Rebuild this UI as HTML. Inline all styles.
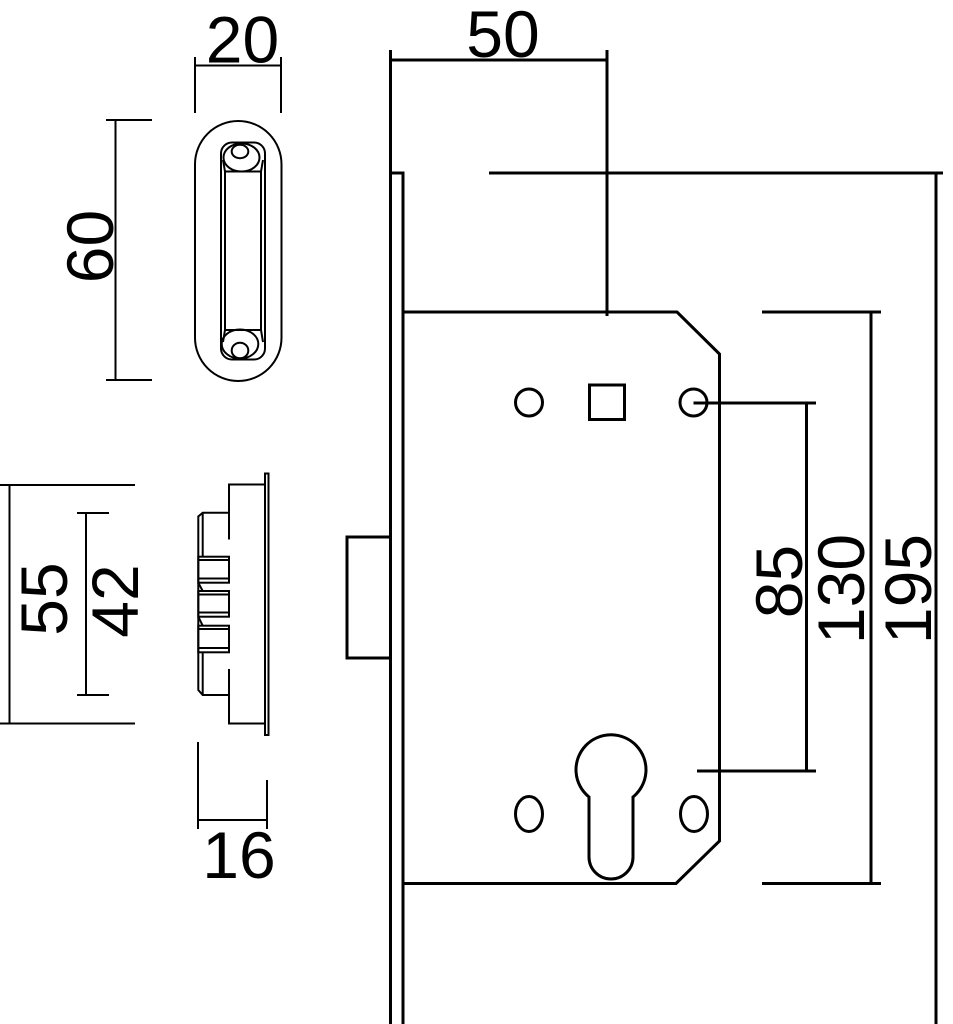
<!DOCTYPE html>
<html><head><meta charset="utf-8"><style>
html,body{margin:0;padding:0;background:#fff;}
svg{display:block;}
text{font-family:"Liberation Sans",Arial,sans-serif;font-size:66px;fill:#000;}
</style></head><body>
<svg width="953" height="1024" viewBox="0 0 953 1024" xmlns="http://www.w3.org/2000/svg">
<rect width="953" height="1024" fill="#fff"/>
<g fill="none" stroke="#000" stroke-width="2">
  <!-- 20 dim -->
  <line x1="195" y1="57" x2="195" y2="113"/>
  <line x1="281" y1="57" x2="281" y2="113"/>
  <line x1="195" y1="65.5" x2="281" y2="65.5"/>
  <!-- 60 dim -->
  <line x1="106" y1="120" x2="152" y2="120"/>
  <line x1="106" y1="380" x2="152" y2="380"/>
  <line x1="115.5" y1="120" x2="115.5" y2="380"/>
  <!-- strike plate front -->
  <rect x="195" y="121" width="86.5" height="260" rx="43.25" ry="43.25"/>
  <rect x="221" y="142.5" width="44" height="217" rx="11" ry="11"/>
  <rect x="225" y="171.5" width="36" height="158.5"/>
  <ellipse cx="241.5" cy="157.5" rx="18" ry="14"/>
  <ellipse cx="240" cy="151.5" rx="8.3" ry="6.7"/>
  <ellipse cx="240" cy="344" rx="18.3" ry="14.5"/>
  <ellipse cx="240" cy="350.5" rx="8.3" ry="7.8"/>
  <line x1="223" y1="160" x2="225" y2="171.5"/>
  <line x1="263" y1="160" x2="261" y2="171.5"/>
  <line x1="223" y1="342" x2="225" y2="330"/>
  <line x1="263" y1="342" x2="261" y2="330"/>
  <!-- 55 dim -->
  <line x1="0" y1="485" x2="135" y2="485"/>
  <line x1="0" y1="723.5" x2="135" y2="723.5"/>
  <line x1="9.5" y1="485" x2="9.5" y2="723.5"/>
  <!-- 42 dim -->
  <line x1="77" y1="513" x2="109" y2="513"/>
  <line x1="77" y1="695" x2="109" y2="695"/>
  <line x1="86" y1="513" x2="86" y2="695"/>
  <!-- strike box side -->
  <rect x="265" y="473.5" width="3.5" height="261.5"/>
  <polyline points="265,484.5 229,484.5 229,539.5"/>
  <polyline points="265,723.5 229,723.5 229,669"/>
  <polyline points="229,512.7 202.7,512.7 198.3,516.5 198.3,690 202.7,695 229,695"/>
  <line x1="202.7" y1="512.7" x2="202.7" y2="556.7"/>
  <line x1="202.7" y1="652.3" x2="202.7" y2="695"/>
  <!-- teeth -->
  <rect x="198.3" y="556.7" width="30.7" height="26"/>
  <line x1="198.3" y1="560" x2="229" y2="560"/>
  <line x1="198.3" y1="578.5" x2="229" y2="578.5"/>
  <line x1="198.3" y1="582.7" x2="202.7" y2="591"/>
  <rect x="198.3" y="591" width="30.7" height="25.7"/>
  <line x1="198.3" y1="594.5" x2="229" y2="594.5"/>
  <line x1="198.3" y1="612.5" x2="229" y2="612.5"/>
  <line x1="198.3" y1="616.7" x2="202.7" y2="625.7"/>
  <rect x="198.3" y="625.7" width="30.7" height="26.6"/>
  <line x1="198.3" y1="629" x2="229" y2="629"/>
  <line x1="198.3" y1="648" x2="229" y2="648"/>
  <!-- 16 dim -->
  <line x1="198" y1="742" x2="198" y2="829"/>
  <line x1="267" y1="780" x2="267" y2="829"/>
  <line x1="198" y1="820" x2="267" y2="820"/>
</g>

<g fill="none" stroke="#000" stroke-width="3">
  <!-- faceplate -->
  <line x1="390.5" y1="50" x2="390.5" y2="1024"/>
  <polyline points="390.5,173 403,173 403,1024"/>
  <!-- 50 dim -->
  <line x1="390.5" y1="60" x2="607" y2="60"/>
  <line x1="607" y1="50" x2="607" y2="316"/>
  <!-- 195 dim -->
  <line x1="489" y1="173" x2="943" y2="173"/>
  <line x1="936" y1="173" x2="936" y2="1024"/>
  <!-- case -->
  <polyline points="403,312 677,312 719.5,354 719.5,841 676,883.5 403,883.5"/>
  <!-- latch -->
  <rect x="347" y="537" width="43.5" height="121"/>
  <!-- holes -->
  <circle cx="529" cy="402.5" r="13.5"/>
  <rect x="589.5" y="385" width="35" height="34.5"/>
  <circle cx="693.5" cy="402.5" r="13.5"/>
  <!-- keyhole -->
  <path d="M 589 797 A 35 35 0 1 1 633 797 L 633 857 A 22 22 0 0 1 589 857 Z"/>
  <ellipse cx="529" cy="814" rx="13.5" ry="17.5"/>
  <ellipse cx="694" cy="814" rx="13.5" ry="17.5"/>
  <!-- 85 dim -->
  <line x1="693.5" y1="403" x2="816" y2="403"/>
  <line x1="697" y1="771" x2="816" y2="771"/>
  <line x1="806.5" y1="403" x2="806.5" y2="771"/>
  <!-- 130 dim -->
  <line x1="762" y1="312" x2="881" y2="312"/>
  <line x1="762" y1="883.5" x2="881" y2="883.5"/>
  <line x1="871" y1="312" x2="871" y2="883.5"/>
</g>

<!-- labels -->
<text x="503" y="57" text-anchor="middle">50</text>
<text x="242.5" y="62.5" text-anchor="middle">20</text>
<text x="239" y="878" text-anchor="middle">16</text>
<text x="0" y="0" text-anchor="middle" transform="translate(113,246.5) rotate(-90)">60</text>
<text x="0" y="0" text-anchor="middle" transform="translate(67,599) rotate(-90)">55</text>
<text x="0" y="0" text-anchor="middle" transform="translate(138,601) rotate(-90)">42</text>
<text x="0" y="0" text-anchor="middle" transform="translate(802,581.5) rotate(-90)">85</text>
<text x="0" y="0" text-anchor="middle" transform="translate(864,589) rotate(-90)">130</text>
<text x="0" y="0" text-anchor="middle" transform="translate(931,589) rotate(-90)">195</text>
</svg>
</body></html>
